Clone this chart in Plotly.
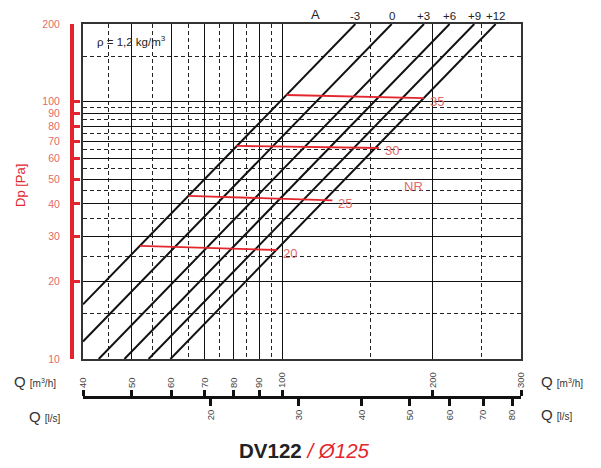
import math
import plotly.graph_objects as go

# ---------------- data ----------------
A_labels = ["-3", "0", "+3", "+6", "+9", "+12"]
A_q_low = [40, 40, 43.0, 48.4, 54.1, 59.8]          # m3/h
A_dp_low = [16.3, 11.7, 10, 10, 10, 10]             # Pa
A_q_high = [140, 165.5, 192, 216, 242, 267]         # m3/h
A_dp_high = [200, 200, 200, 200, 200, 200]          # Pa

NR_labels = ["20", "25", "30", "35"]
NR_q_start = [52, 65, 81, 102]
NR_dp_start = [27.5, 43, 67.2, 106]
NR_q_end = [97.6, 126, 156, 192]
NR_dp_end = [26.5, 41.3, 66, 103]

x_major = [50, 60, 70, 80, 90, 100, 200]
x_minor = [45, 55, 65, 75, 85, 95, 150, 250]
y_major = [20, 30, 40, 50, 60, 70, 80, 90, 100]
y_minor = [15, 25, 35, 45, 55, 65, 75, 85, 95, 150]
dp_ticks = [10, 20, 30, 40, 50, 60, 70, 80, 90, 100, 200]
q_m3h_ticks = [40, 50, 60, 70, 80, 90, 100, 200, 300]
q_ls_ticks = [20, 30, 40, 50, 60, 70, 80]

Q_RANGE = [40, 300]
DP_RANGE = [10, 200]

# ---------------- geometry ----------------
OFF = 8                      # page body margin
W, H = 601 - OFF, 468 - OFF
FONT = "Liberation Sans, Arial, sans-serif"
RED = "#e3262d"
LRED = "#e26a6a"

def px_x(p):
    return (p - OFF) / W

def px_y(p):
    return 1 - (p - OFF) / H

xdom = [px_x(83), px_x(521)]
ydom = [px_y(359), px_y(24)]
lgx = [math.log10(Q_RANGE[0]), math.log10(Q_RANGE[1])]
lgy = [math.log10(DP_RANGE[0]), math.log10(DP_RANGE[1])]

fig = go.Figure()

for i, lab in enumerate(A_labels):
    fig.add_trace(go.Scatter(
        x=[A_q_low[i], A_q_high[i]], y=[A_dp_low[i], A_dp_high[i]],
        mode="lines", line=dict(color="#111", width=2), showlegend=False,
        hoverinfo="skip", xaxis="x", yaxis="y"))

for i, lab in enumerate(NR_labels):
    fig.add_trace(go.Scatter(
        x=[NR_q_start[i], NR_q_end[i]], y=[NR_dp_start[i], NR_dp_end[i]],
        mode="lines", line=dict(color=RED, width=1.8), showlegend=False,
        hoverinfo="skip", xaxis="x", yaxis="y"))

# invisible traces so the extra axes are drawn
fig.add_trace(go.Scatter(x=[100], y=[50], mode="markers", marker=dict(opacity=0),
                         showlegend=False, hoverinfo="skip", xaxis="x", yaxis="y2"))
fig.add_trace(go.Scatter(x=[100], y=[50], mode="markers", marker=dict(opacity=0),
                         showlegend=False, hoverinfo="skip", xaxis="x2", yaxis="y"))
fig.add_trace(go.Scatter(x=[30], y=[50], mode="markers", marker=dict(opacity=0),
                         showlegend=False, hoverinfo="skip", xaxis="x3", yaxis="y"))

DASH = "4px,3px"

fig.update_layout(
    width=W, height=H,
    margin=dict(l=0, r=0, t=0, b=0, autoexpand=False),
    paper_bgcolor="white", plot_bgcolor="white",
    font=dict(family=FONT, color="#333"),
    xaxis=dict(
        type="log", range=lgx, domain=xdom, anchor="y", automargin=False,
        tickmode="array", tickvals=x_major, showticklabels=False, ticks="",
        showgrid=True, gridcolor="#111", gridwidth=1,
        minor=dict(tickmode="array", tickvals=x_minor, showgrid=True,
                   gridcolor="#222", gridwidth=1, griddash=DASH, ticks=""),
        showline=True, mirror=True, linecolor="#333", linewidth=1.5,
        zeroline=False, fixedrange=True),
    yaxis=dict(
        type="log", range=lgy, domain=ydom, anchor="x", automargin=False,
        tickmode="array", tickvals=y_major, showticklabels=False, ticks="",
        showgrid=True, gridcolor="#111", gridwidth=1,
        minor=dict(tickmode="array", tickvals=y_minor, showgrid=True,
                   gridcolor="#222", gridwidth=1, griddash=DASH, ticks=""),
        showline=True, mirror=True, linecolor="#333", linewidth=1.5,
        zeroline=False, fixedrange=True),
    yaxis2=dict(
        type="log", range=lgy, domain=ydom, overlaying="y", anchor="free",
        position=px_x(72), side="left", automargin=False,
        tickmode="array", tickvals=dp_ticks, ticktext=[str(v) for v in dp_ticks],
        ticks="inside", ticklen=6, tickwidth=3, tickcolor=RED,
        ticklabelstandoff=8,
        tickfont=dict(family=FONT, size=10.5, color=LRED),
        showline=True, linecolor=RED, linewidth=4, showgrid=False,
        zeroline=False, fixedrange=True),
    xaxis2=dict(
        type="log", range=lgx, domain=xdom, overlaying="x", anchor="free",
        position=px_y(397), side="top", automargin=False,
        tickmode="array", tickvals=q_m3h_ticks, ticktext=[str(v) for v in q_m3h_ticks],
        ticks="outside", ticklen=6, tickwidth=2.5, tickcolor="#111",
        tickangle=-90, tickfont=dict(family=FONT, size=9.5, color="#444"),
        showline=True, linecolor="#111", linewidth=3, showgrid=False,
        zeroline=False, fixedrange=True),
    xaxis3=dict(
        type="log", range=[math.log10(Q_RANGE[0] / 3.6), math.log10(Q_RANGE[1] / 3.6)],
        domain=xdom, overlaying="x", anchor="free", automargin=False,
        position=px_y(397), side="bottom",
        tickmode="array", tickvals=q_ls_ticks, ticktext=[str(v) for v in q_ls_ticks],
        ticks="outside", ticklen=7, tickwidth=2.5, tickcolor="#111",
        tickangle=-90, tickfont=dict(family=FONT, size=9.5, color="#444"),
        showline=True, linecolor="#111", linewidth=3, showgrid=False,
        zeroline=False, fixedrange=True),
)

ann = []

def note(x, y, text, size, color, xanchor="center", angle=0):
    ann.append(dict(x=px_x(x), y=px_y(y), xref="paper", yref="paper", text=text,
                    showarrow=False, xanchor=xanchor, yanchor="middle",
                    textangle=angle, font=dict(family=FONT, size=size, color=color)))

# A labels above line tops
for i, lab in enumerate(A_labels):
    ann.append(dict(x=math.log10(A_q_high[i]), y=px_y(16), xref="x", yref="paper",
                    text=lab, showarrow=False, xanchor="center", yanchor="middle",
                    font=dict(family=FONT, size=11.5, color="#222")))
note(315, 14, "A", 13, "#222")
# NR labels
for i, lab in enumerate(NR_labels):
    ann.append(dict(x=math.log10(NR_q_end[i]), y=math.log10(NR_dp_end[i]),
                    xref="x", yref="y", text=lab, showarrow=False,
                    xanchor="left", yanchor="middle", xshift=4, yshift=-3,
                    font=dict(family=FONT, size=13, color=LRED)))
note(413, 186, "NR", 13, LRED)
note(95, 41, "ρ = 1,2 kg/m<sup>3</sup>", 11.5, "#222", xanchor="left")
note(20, 186, "Dp [Pa]", 13, RED, angle=-90)
qm3 = "Q <span style='font-size:10px'>[m<sup>3</sup>/h]</span>"
qls = "Q <span style='font-size:10px'>[l/s]</span>"
note(12, 381, qm3, 15, "#333", xanchor="left")
note(27, 416, qls, 15, "#333", xanchor="left")
note(539, 381, qm3, 15, "#333", xanchor="left")
note(539, 414, qls, 15, "#333", xanchor="left")
note(304, 450, "<b>DV122</b> <i><span style='color:%s'>/ Ø125</span></i>" % RED,
     20.5, "#222")

fig.update_layout(annotations=ann)
fig.write_html("out.html")
